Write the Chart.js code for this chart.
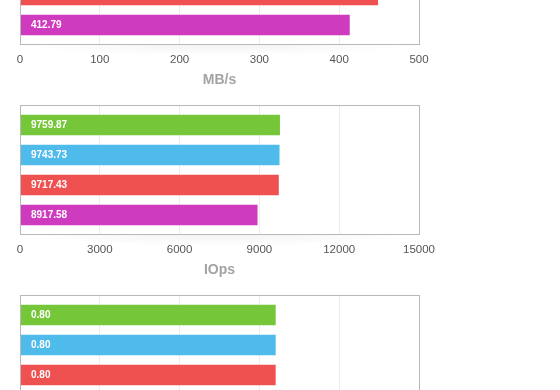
<!DOCTYPE html>
<html><head><meta charset="utf-8">
<script src="https://cdn.jsdelivr.net/npm/chart.js@4/dist/chart.umd.min.js"></script>
<style>
html,body{margin:0;padding:0;background:#fff;overflow:hidden;width:560px;height:390px;position:relative;}
.blk{position:absolute;left:0;width:560px;height:190px;}
canvas{display:block;}
</style></head><body>
<div class="blk" style="top:-100px"><canvas id="c1" width="560" height="190"></canvas></div>
<div class="blk" style="top:90px"><canvas id="c2" width="560" height="190"></canvas></div>
<div class="blk" style="top:280px"><canvas id="c3" width="560" height="190"></canvas></div>
<script>
// ---- data ----
const categories = ['1', '2', '3', '4'];
const barColors = ['#76c63a', '#4fbbeb', '#ef5050', '#cf3bbf'];

const throughputValues = [452.30, 451.10, 448.30, 412.79];
const throughputTicks = [0, 100, 200, 300, 400, 500];

const iopsValues = [9759.87, 9743.73, 9717.43, 8917.58];
const iopsTicks = [0, 3000, 6000, 9000, 12000, 15000];

const latencyValues = [0.80, 0.80, 0.80, 0.89];
const latencyTicks = [0, 0.25, 0.5, 0.75, 1, 1.25];

const axisTitles = ['MB/s', 'IOps', 'ms'];

const FONT = "'Liberation Sans', Arial, Helvetica, sans-serif";

const boxPlugin = {
  id: 'box',
  beforeDraw(chart) {
    const {ctx, chartArea: a} = chart;
    ctx.save();
    const cx = (a.left + a.right) / 2;
    const rx = (a.right - a.left) / 2;
    ctx.translate(cx, a.bottom);
    ctx.scale(rx / 12, 1);
    const g = ctx.createRadialGradient(0, 0, 0, 0, 0, 12);
    g.addColorStop(0, 'rgba(0,0,0,0.05)');
    g.addColorStop(1, 'rgba(0,0,0,0)');
    ctx.fillStyle = g;
    ctx.fillRect(-12, 0, 24, 12);
    ctx.restore();
  },
  afterDatasetsDraw(chart) {
    const {ctx, chartArea: a} = chart;
    ctx.save();
    ctx.strokeStyle = '#b8b8b8';
    ctx.lineWidth = 1;
    ctx.strokeRect(a.left + 0.5, a.top + 0.5, a.right - a.left, a.bottom - a.top);
    const vals = chart.data.datasets[0].data;
    const meta = chart.getDatasetMeta(0);
    ctx.fillStyle = '#ffffff';
    ctx.font = 'bold 10px ' + FONT;
    ctx.textBaseline = 'middle';
    ctx.textAlign = 'left';
    meta.data.forEach((bar, i) => {
      ctx.fillText(vals[i].x.toFixed(2), bar.base + 10.5, bar.y + 0.5);
    });
    ctx.restore();
  }
};

function makeChart(id, values, ticks, title) {
  new Chart(document.getElementById(id), {
    type: 'bar',
    data: {
      datasets: [{
        data: values.map((v, i) => ({x: v, y: i})),
        backgroundColor: barColors,
        borderWidth: 0,
        barThickness: 20
      }]
    },
    options: {
      indexAxis: 'y',
      responsive: false,
      animation: false,
      events: [],
      layout: {padding: {left: 20, right: 141, top: 15, bottom: 0}},
      plugins: {legend: {display: false}, tooltip: {enabled: false}},
      scales: {
        x: {
          type: 'linear',
          min: ticks[0],
          max: ticks[ticks.length - 1],
          afterBuildTicks: s => { s.ticks = ticks.map(v => ({value: v})); },
          afterFit: s => { s.height = 46; },
          grid: {color: '#ececec', lineWidth: 1, drawTicks: false},
          border: {display: false},
          ticks: {
            padding: 9,
            color: '#555555',
            font: {family: FONT, size: 11.5},
            maxRotation: 0,
            autoSkip: false,
            callback: v => String(v)
          },
          title: {
            display: true,
            text: title,
            color: '#a3a3a3',
            font: {family: FONT, size: 14, weight: 'bold'},
            padding: {top: 0, bottom: 1}
          }
        },
        y: {
          type: 'linear',
          reverse: true,
          offset: false,
          bounds: 'data',
          grace: 0,
          min: -0.6667,
          max: categories.length - 0.3667,
          afterDataLimits: s => { s.min = -0.6667; s.max = categories.length - 0.3667; },
          display: false,
          grid: {offset: false}
        }
      }
    },
    plugins: [boxPlugin]
  });
}

makeChart('c1', throughputValues, throughputTicks, axisTitles[0]);
makeChart('c2', iopsValues, iopsTicks, axisTitles[1]);
makeChart('c3', latencyValues, latencyTicks, axisTitles[2]);
</script>
</body></html>
